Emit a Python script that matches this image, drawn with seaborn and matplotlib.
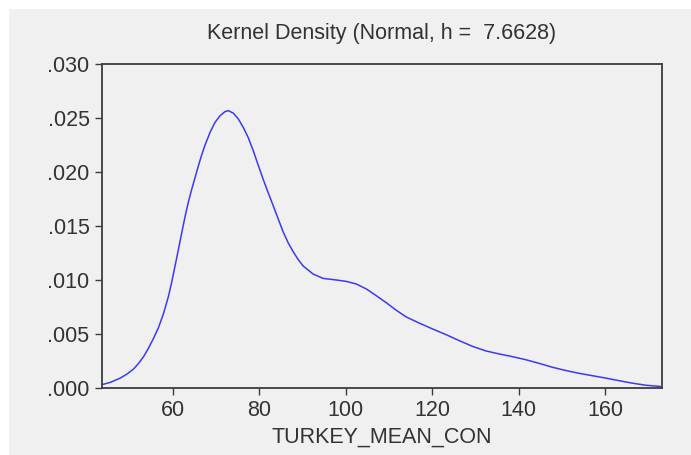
import matplotlib
matplotlib.use("Agg")
import matplotlib.pyplot as plt
from matplotlib.patches import Rectangle
from matplotlib.ticker import FuncFormatter, MultipleLocator
import seaborn as sns
import pandas as pd

# Values
turkey_mean_con = [43.61, 45.53, 47.84, 49.38, 50.91, 52.07, 53.22, 54.38, 55.53, 56.68,
                   57.84, 58.99, 59.76, 60.53, 61.30, 62.07, 62.84, 63.61, 64.38, 65.15,
                   65.92, 66.69, 67.45, 68.61, 69.76, 70.92, 72.07, 72.84, 73.99, 75.15,
                   76.30, 77.45, 78.61, 79.76, 80.92, 82.07, 83.22, 84.38, 85.53, 86.68,
                   87.84, 88.99, 90.15, 91.69, 92.46, 94.76, 97.84, 100.15, 102.46, 104.77,
                   107.07, 109.38, 111.69, 114.00, 117.07, 120.15, 123.23, 126.30, 129.38,
                   132.46, 135.54, 138.61, 141.69, 144.77, 147.84, 150.92, 154.00, 157.07,
                   160.15, 163.23, 166.31, 169.38, 172.85]
density = [0.00031, 0.00052, 0.00092, 0.00129, 0.00176, 0.00228, 0.00290, 0.00370, 0.00460, 0.00560,
           0.00690, 0.00850, 0.00985, 0.01135, 0.01285, 0.01440, 0.01590, 0.01725, 0.01842, 0.01950,
           0.02059, 0.02160, 0.02250, 0.02367, 0.02460, 0.02521, 0.02559, 0.02568, 0.02545, 0.02491,
           0.02413, 0.02318, 0.02197, 0.02063, 0.01930, 0.01808, 0.01688, 0.01565, 0.01445, 0.01345,
           0.01262, 0.01190, 0.01130, 0.01080, 0.01055, 0.01015, 0.01000, 0.00987, 0.00963, 0.00917,
           0.00855, 0.00790, 0.00720, 0.00658, 0.00600, 0.00546, 0.00494, 0.00438, 0.00385,
           0.00343, 0.00315, 0.00290, 0.00262, 0.00228, 0.00192, 0.00162, 0.00136, 0.00114,
           0.00092, 0.00068, 0.00045, 0.00026, 0.00014]
x_ticks = [60, 80, 100, 120, 140, 160]
title = "Kernel Density (Normal, h =  7.6628)"
x_label = "TURKEY_MEAN_CON"

df = pd.DataFrame({"x": turkey_mean_con, "y": density})

sns.set_theme(style="ticks")
plt.rcParams["font.family"] = ["Liberation Sans", "DejaVu Sans"]

W, H = 691, 455
fig = plt.figure(figsize=(W / 100, H / 100), dpi=100, facecolor="white")
bg = "#f0f0f0"
fig.patches.append(Rectangle((9 / W, 0), 1 - 9 / W, 1 - 9 / H, transform=fig.transFigure,
                             facecolor=bg, edgecolor="none", zorder=-10))

L, R, T, B = 102, 662, 64, 388
ax = fig.add_axes([L / W, 1 - B / H, (R - L) / W, (B - T) / H])
ax.set_facecolor(bg)

sns.lineplot(data=df, x="x", y="y", ax=ax, color="#3a3af5", linewidth=1.1,
             sort=False, estimator=None)

ax.set_xlim(43.6, 173.2)
ax.set_ylim(0, 0.030)
ax.set_xticks(x_ticks)
ax.yaxis.set_major_locator(MultipleLocator(0.005))
ax.yaxis.set_major_formatter(FuncFormatter(lambda v, p: ("%.3f" % v).lstrip("0")))

for s in ax.spines.values():
    s.set_visible(True)
    s.set_color("#3c3c3c")
    s.set_linewidth(1.3)

fs = 15.5
txt = "#333333"
ax.tick_params(axis="both", direction="out", length=5, width=1, color="#3c3c3c",
               labelsize=fs, labelcolor=txt, pad=4)
ax.tick_params(top=False, right=False)

ax.set_ylabel("")
ax.set_xlabel(x_label, fontsize=fs, color=txt, va="center")
ax.xaxis.set_label_coords(0.5, (B - 437) / (B - T))

fig.text((L + R) / 2 / W, 1 - 33 / H, title, ha="center", va="center",
         fontsize=fs, color=txt)

fig.savefig("out.png", dpi=100, facecolor=fig.get_facecolor())
